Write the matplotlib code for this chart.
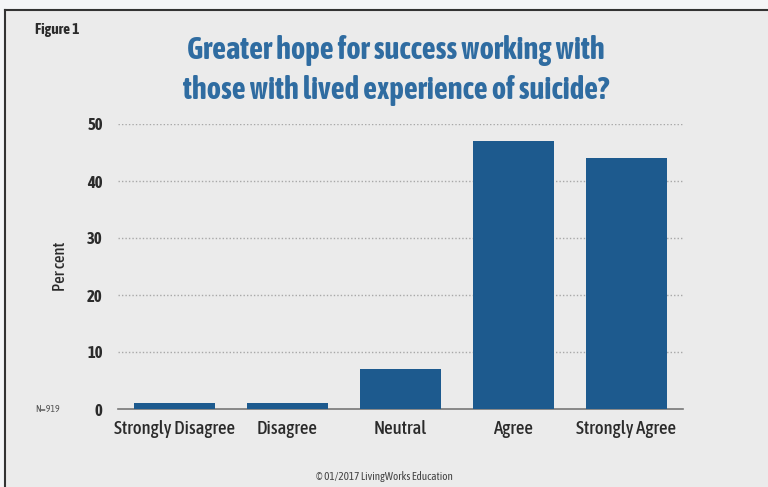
import matplotlib
matplotlib.use("Agg")
import matplotlib.pyplot as plt
from matplotlib import font_manager
from matplotlib.patches import Rectangle

categories = ["Strongly Disagree", "Disagree", "Neutral", "Agree", "Strongly Agree"]
percent = [1, 1, 7, 47, 44]
yticks = [0, 10, 20, 30, 40, 50]

bar_color = "#1d5a8e"
bg = "#ebebeb"
text_dark = "#2b2b2b"

# condensed face like the original; fall back to Liberation Sans with smaller text
names = {f.name for f in font_manager.fontManager.ttflist}
if "Asap Condensed" in names:
    fam, k = "Asap Condensed", 1.0
else:
    fam, k = "Liberation Sans", 0.8
plt.rcParams["font.family"] = [fam, "DejaVu Sans"]

fig = plt.figure(figsize=(7.68, 4.87), dpi=100)
fig.patch.set_facecolor("#f4f5f7")

# grey panel with a dark border on top and left
fig.add_artist(Rectangle((5 / 768, 0), 1, 1 - 10 / 487, transform=fig.transFigure,
                         facecolor=bg, edgecolor="none", zorder=-10))
fig.add_artist(plt.Line2D([5 / 768, 1], [1 - 10 / 487] * 2, transform=fig.transFigure,
                          color="#333333", lw=1.5))
fig.add_artist(plt.Line2D([5 / 768] * 2, [0, 1 - 10 / 487], transform=fig.transFigure,
                          color="#333333", lw=1.5))

ax = fig.add_axes([118 / 768, 1 - 409 / 487, 565 / 768, 285 / 487])
ax.set_facecolor(bg)

x = range(len(categories))
ax.bar(x, percent, width=0.71, color=bar_color, zorder=3)

ax.set_xlim(-0.5, 4.5)
ax.set_ylim(0, 50)
ax.set_yticks(yticks)
ax.set_yticklabels([str(t) for t in yticks], fontsize=12 * k, fontweight="bold", color=text_dark)
ax.set_xticks(list(x))
ax.set_xticklabels(categories, fontsize=13.5 * k, fontweight="medium", color=text_dark)
ax.tick_params(length=0, axis="y", pad=11)
ax.tick_params(length=0, axis="x", pad=8)

for t in yticks[1:]:
    ax.axhline(t, color="#a8a8a8", lw=1, ls=(0, (1, 1.5)), zorder=1)

for s in ["top", "right", "left"]:
    ax.spines[s].set_visible(False)
ax.spines["bottom"].set_color("#777777")
ax.spines["bottom"].set_linewidth(1.2)

ax.set_ylabel("Per cent", fontsize=12 * k, fontweight="medium", color=text_dark, labelpad=13)

fig.text(0.5 + 12 / 768, 1 - 50 / 487, "Greater hope for success working with",
         ha="center", va="center", fontsize=22 * k, fontweight="bold", color="#2f6ca1")
fig.text(0.5 + 12 / 768, 1 - 90 / 487, "those with lived experience of suicide?",
         ha="center", va="center", fontsize=22 * k, fontweight="bold", color="#2f6ca1")
fig.text(35 / 768, 1 - 30 / 487, "Figure 1", ha="left", va="center",
         fontsize=11 * k, fontweight="bold", color=text_dark)
fig.text(35 / 768, 1 - 410 / 487, "N=919", ha="left", va="center",
         fontsize=7 * k, color="#555555")
fig.text(0.5, 1 - 477 / 487, "\u00a9 01/2017 LivingWorks Education", ha="center", va="center",
         fontsize=8 * k, color="#444444")

fig.savefig("out.png", dpi=100, facecolor=fig.get_facecolor())
